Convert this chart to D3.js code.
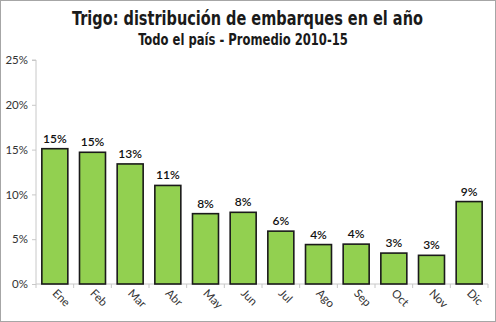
<!DOCTYPE html>
<html><head><meta charset="utf-8">
<script src="https://cdn.jsdelivr.net/npm/d3@7"></script>
<style>body{margin:0;background:#fff}svg{display:block}</style>
</head><body>
<script>
const months = ["Ene","Feb","Mar","Abr","May","Jun","Jul","Ago","Sep","Oct","Nov","Dic"];
const values = [15.1,14.7,13.4,11.0,7.85,8.0,5.9,4.4,4.45,3.45,3.2,9.2];
const yTicks = [0,5,10,15,20,25];
const title = "Trigo: distribución de embarques en el año";
const subtitle = "Todo el país - Promedio 2010-15";

const W=496,H=322;
const svg=d3.select("body").append("svg").attr("width",W).attr("height",H);
svg.append("rect").attr("x",0.5).attr("y",0.5).attr("width",W-1).attr("height",H-1)
  .attr("fill","#fff").attr("stroke","#a6a6a6");
const m={l:36,r:8,t:60,b:38};
const x=d3.scaleBand().domain(months).range([m.l,W-m.r]).paddingInner(0.31).paddingOuter(0.155);
const y=d3.scaleLinear().domain([0,25]).range([284,60]);

function fitText(txt,cx,by,size,targetW){
  const g=svg.append("g");
  const t=g.append("text").attr("text-anchor","middle")
    .attr("font-family","DejaVu Sans Condensed, Liberation Sans, sans-serif").attr("font-weight","bold")
    .attr("font-size",size).attr("fill","#1a1a1a").text(txt);
  const w=t.node().getComputedTextLength();
  const sx=Math.min(1,targetW/w);
  g.attr("transform",`translate(${cx},${by}) scale(${sx},1)`);
}
fitText(title,247.5,25,20,351);
fitText(subtitle,243,45,15,210);

const ya=svg.append("g").attr("transform",`translate(${m.l},0)`)
  .call(d3.axisLeft(y).tickValues(yTicks).tickFormat(d=>d+"%").tickSize(4).tickPadding(4));
ya.select(".domain").attr("stroke","#c8c8c8").attr("d",`M-4,${y(25)}H0V${y(0)}`);
ya.selectAll(".tick line").attr("stroke","#c8c8c8");
ya.selectAll("text").attr("font-family","Lato, sans-serif").attr("font-size",11.5).attr("fill","#333");

// x axis
const xa=svg.append("g");
xa.append("line").attr("x1",m.l).attr("x2",W-m.r).attr("y1",y(0)).attr("y2",y(0)).attr("stroke","#c8c8c8");
const step=x.step();
months.forEach((d,i)=>{
  const xx=m.l+i*step;
  xa.append("line").attr("x1",xx).attr("x2",xx).attr("y1",y(0)).attr("y2",y(0)+4).attr("stroke","#c8c8c8");
});
xa.append("line").attr("x1",W-m.r).attr("x2",W-m.r).attr("y1",y(0)).attr("y2",y(0)+4).attr("stroke","#c8c8c8");
months.forEach(d=>{
  const cx=x(d)+x.bandwidth()/2;
  xa.append("text").attr("transform",`translate(${cx-3},${y(0)+10}) rotate(45)`)
    .attr("font-family","Lato, sans-serif").attr("font-size",11.5).attr("fill","#333").text(d);
});

svg.selectAll("rect.bar").data(values).enter().append("rect").attr("class","bar")
  .attr("x",(d,i)=>x(months[i])).attr("width",x.bandwidth())
  .attr("y",d=>y(d)).attr("height",d=>y(0)-y(d))
  .attr("fill","#92d050").attr("stroke","#1a1a1a").attr("stroke-width",1.6);

svg.selectAll("text.lbl").data(values).enter().append("text").attr("class","lbl")
  .attr("x",(d,i)=>x(months[i])+x.bandwidth()/2).attr("y",d=>y(d)-6)
  .attr("text-anchor","middle").attr("font-family","Lato, sans-serif").attr("font-size",12)
  .attr("font-weight","600").attr("fill","#111").text(d=>Math.round(d)+"%");
</script>
</body></html>
